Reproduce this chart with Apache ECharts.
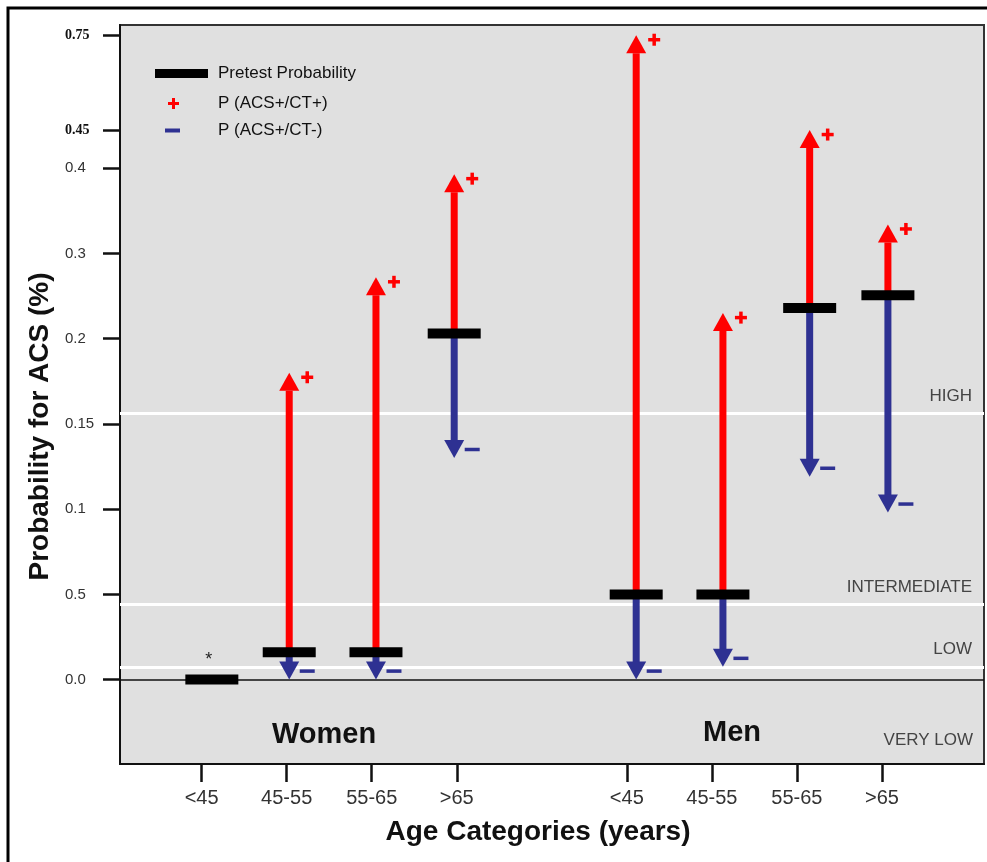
<!DOCTYPE html>
<html>
<head>
<meta charset="utf-8">
<script src="https://cdn.jsdelivr.net/npm/echarts@6/dist/echarts.min.js"></script>
<style>
  html, body { margin: 0; padding: 0; background: #ffffff; }
  #chart { width: 987px; height: 862px; }
</style>
</head>
<body>
<div id="chart"></div>
<script>
// ---------------- data ----------------
const ageGroups = ['<45', '45-55', '55-65', '>65'];
const sexGroups = ['Women', 'Men'];
// order: Women <45, 45-55, 55-65, >65, Men <45, 45-55, 55-65, >65
const pretestProb = [0.0, 0.016, 0.016, 0.206, 0.05, 0.05, 0.236, 0.251];
const probCTpos   = [null, 0.180, 0.272, 0.393, 0.75, 0.230, 0.452, 0.334];
const probCTneg   = [null, 0.0, 0.0, 0.130, 0.0, 0.0075, 0.119, 0.098];
const notes       = ['*', '', '', '', '', '', '', ''];
// category slot on the x axis (ticks) and where the marks sit
const tickSlots = [1, 2, 3, 4, 6, 7, 8, 9];
const markSlots = [1.12, 2.03, 3.05, 3.97, 6.11, 7.13, 8.15, 9.07];
// risk thresholds
const riskNames  = ['HIGH', 'INTERMEDIATE', 'LOW'];
const riskValues = [0.156, 0.044, 0.0075];
// broken y scale: tick values, labels (as printed) and their step position
const yTickValues = [0, 0.05, 0.1, 0.15, 0.2, 0.3, 0.4, 0.45, 0.75];
const yTickLabels = ['0.0', '0.5', '0.1', '0.15', '0.2', '0.3', '0.4', '0.45', '0.75'];
const yTickSteps  = [0, 1, 2, 3, 4, 5, 6, 6.44, 7.56];

// piecewise scale: probability -> axis step
function toStep(v) {
  if (v <= yTickValues[0]) return (v - yTickValues[0]) / (yTickValues[1] - yTickValues[0]) * (yTickSteps[1] - yTickSteps[0]);
  for (let i = 0; i < yTickValues.length - 1; i++) {
    if (v <= yTickValues[i + 1]) {
      const t = (v - yTickValues[i]) / (yTickValues[i + 1] - yTickValues[i]);
      return yTickSteps[i] + t * (yTickSteps[i + 1] - yTickSteps[i]);
    }
  }
  const n = yTickValues.length - 1;
  const t = (v - yTickValues[n - 1]) / (yTickValues[n] - yTickValues[n - 1]);
  return yTickSteps[n - 1] + t * (yTickSteps[n] - yTickSteps[n - 1]);
}

const RED = '#ff0000';
const BLUE = '#2e3192';
const SANS = 'Liberation Sans, Arial, sans-serif';

const pretestData = pretestProb.map((v, i) => ({ value: [markSlots[i], toStep(v)], note: notes[i] }));
const posData = [], negData = [];
probCTpos.forEach((v, i) => { if (v !== null) posData.push([markSlots[i], toStep(pretestProb[i]), toStep(v)]); });
probCTneg.forEach((v, i) => { if (v !== null) negData.push([markSlots[i], toStep(pretestProb[i]), toStep(v)]); });

function arrowRenderer(color, kind) {
  return function (params, api) {
    const x = api.value(0);
    const p0 = api.coord([x, api.value(1)]);
    const p1 = api.coord([x, api.value(2)]);
    const head = 18, half = 10, shaft = 7;
    const up = p1[1] < p0[1];
    const baseY = up ? p1[1] + head : p1[1] - head;
    const children = [
      { type: 'rect', shape: { x: p0[0] - shaft / 2, y: Math.min(p0[1], baseY), width: shaft, height: Math.abs(p0[1] - baseY) + 1 }, style: { fill: color } },
      { type: 'polygon', shape: { points: [[p1[0], p1[1]], [p1[0] - half, baseY], [p1[0] + half, baseY]] }, style: { fill: color } }
    ];
    if (kind === 'plus') {
      const cx = p1[0] + 18, cy = p1[1] + 4.5;
      children.push({ type: 'rect', shape: { x: cx - 6, y: cy - 1.75, width: 12, height: 3.5 }, style: { fill: color } });
      children.push({ type: 'rect', shape: { x: cx - 1.75, y: cy - 6, width: 3.5, height: 12 }, style: { fill: color } });
    } else {
      const cx = p1[0] + 18, cy = p1[1] - 8.5;
      children.push({ type: 'rect', shape: { x: cx - 7.5, y: cy - 1.75, width: 15, height: 3.5 }, style: { fill: color } });
    }
    return { type: 'group', children: children };
  };
}

function nearestIndex(arr, v) {
  let best = 0;
  arr.forEach((a, i) => { if (Math.abs(a - v) < Math.abs(arr[best] - v)) best = i; });
  return best;
}

const chart = echarts.init(document.getElementById('chart'), null, { renderer: 'canvas' });
const option = {
  backgroundColor: '#ffffff',
  animation: false,
  grid: {
    left: 120, right: 3, top: 25, bottom: 98,
    show: true, backgroundColor: '#e0e0e0', borderColor: '#333', borderWidth: 2
  },
  legend: [
    {
      data: [{ name: 'Pretest Probability', icon: 'rect', itemStyle: { color: '#000' } }],
      left: 150, top: 60, itemWidth: 53, itemHeight: 9, selectedMode: false,
      textStyle: { fontFamily: SANS, fontSize: 17, color: '#111', padding: [0, 0, 0, 5] }
    },
    {
      data: [{ name: 'P (ACS+/CT+)', icon: 'path://M4,0h3v4h4v3h-4v4h-3v-4h-4v-3h4z', itemStyle: { color: RED } }],
      left: 163, top: 90, itemWidth: 11, itemHeight: 11, selectedMode: false,
      textStyle: { fontFamily: SANS, fontSize: 17, color: '#111', padding: [0, 0, 0, 34] }
    },
    {
      data: [{ name: 'P (ACS+/CT-)', icon: 'rect', itemStyle: { color: BLUE } }],
      left: 160, top: 117, itemWidth: 15, itemHeight: 4, selectedMode: false,
      textStyle: { fontFamily: SANS, fontSize: 17, color: '#111', padding: [0, 0, 0, 33] }
    }
  ],
  xAxis: {
    type: 'value', min: 0.04, max: 10.2,
    name: 'Age Categories (years)', nameLocation: 'middle', nameGap: 54,
    nameTextStyle: { fontFamily: SANS, fontSize: 28, fontWeight: 'bold', color: '#111', padding: [0, 28, 0, 0] },
    axisLine: { show: true, onZero: false, lineStyle: { color: '#111', width: 2 } },
    axisTick: { show: true, customValues: tickSlots, length: 18, lineStyle: { color: '#111', width: 2.5 } },
    axisLabel: {
      customValues: tickSlots, margin: 24, fontFamily: SANS, fontSize: 20, color: '#333',
      formatter: function (v) { const i = nearestIndex(tickSlots, v); return ageGroups[i % ageGroups.length]; }
    },
    splitLine: { show: false }
  },
  yAxis: {
    type: 'value', min: -0.99, max: 7.68,
    name: 'Probability for ACS (%)', nameLocation: 'middle', nameGap: 66, nameRotate: 90,
    nameTextStyle: { fontFamily: SANS, fontSize: 28, fontWeight: 'bold', color: '#111', padding: [0, 64, 0, 0] },
    axisLine: { show: true, onZero: false, lineStyle: { color: '#111', width: 2 } },
    axisTick: { show: true, customValues: yTickSteps, length: 17, lineStyle: { color: '#111', width: 2.5 } },
    axisLabel: {
      customValues: yTickSteps, margin: 55, align: 'left', fontFamily: SANS, fontSize: 15, color: '#333',
      formatter: function (v) {
        const i = nearestIndex(yTickSteps, v);
        return yTickValues[i] >= 0.45 ? '{b|' + yTickLabels[i] + '}' : yTickLabels[i];
      },
      rich: { b: { fontFamily: 'Liberation Serif, Times New Roman, serif', fontWeight: 'bold', fontSize: 14, color: '#111' } }
    },
    splitLine: { show: false }
  },
  series: [
    {
      name: 'Risk levels', type: 'line', data: [], silent: true, z: 1,
      markLine: {
        silent: true, symbol: 'none', animation: false, z: 1,
        lineStyle: { color: '#ffffff', width: 3, type: 'solid' },
        label: {
          show: true, position: 'insideEndTop', distance: 0, padding: [0, 12, 9, 0],
          fontFamily: SANS, fontSize: 17, color: '#444'
        },
        data: riskValues.map((v, i) => ({ yAxis: toStep(v), label: { formatter: riskNames[i] } }))
          .concat([{ yAxis: 0, lineStyle: { color: '#111', width: 1.5 }, label: { show: false } }])
      }
    },
    {
      name: 'P (ACS+/CT+)', type: 'custom', z: 3, silent: true,
      itemStyle: { color: RED },
      renderItem: arrowRenderer(RED, 'plus'),
      encode: { x: 0, y: [1, 2] },
      data: posData
    },
    {
      name: 'P (ACS+/CT-)', type: 'custom', z: 3, silent: true,
      itemStyle: { color: BLUE },
      renderItem: arrowRenderer(BLUE, 'minus'),
      encode: { x: 0, y: [1, 2] },
      data: negData
    },
    {
      name: 'Pretest Probability', type: 'scatter', z: 5, silent: true,
      symbol: 'rect', symbolSize: [53, 10],
      itemStyle: { color: '#000', opacity: 1 },
      label: {
        show: true, position: 'top', distance: 6, offset: [-3, 0],
        fontFamily: SANS, fontSize: 18, color: '#222',
        formatter: function (p) { return p.data.note || ''; }
      },
      data: pretestData
    }
  ],
  graphic: [
    { type: 'rect', silent: true, shape: { x: 8, y: 8, width: 1000, height: 900 }, style: { fill: 'none', stroke: '#000', lineWidth: 3 } },
    { type: 'text', silent: true, x: 324, y: 735, style: { text: sexGroups[0], fontFamily: SANS, fontSize: 29, fontWeight: 'bold', fill: '#111', align: 'center', verticalAlign: 'middle' } },
    { type: 'text', silent: true, x: 732, y: 733, style: { text: sexGroups[1], fontFamily: SANS, fontSize: 29, fontWeight: 'bold', fill: '#111', align: 'center', verticalAlign: 'middle' } },
    { type: 'text', silent: true, x: 973, y: 740, style: { text: 'VERY LOW', fontFamily: SANS, fontSize: 17, fill: '#444', align: 'right', verticalAlign: 'middle' } }
  ]
};
chart.setOption(option);
</script>
</body>
</html>
